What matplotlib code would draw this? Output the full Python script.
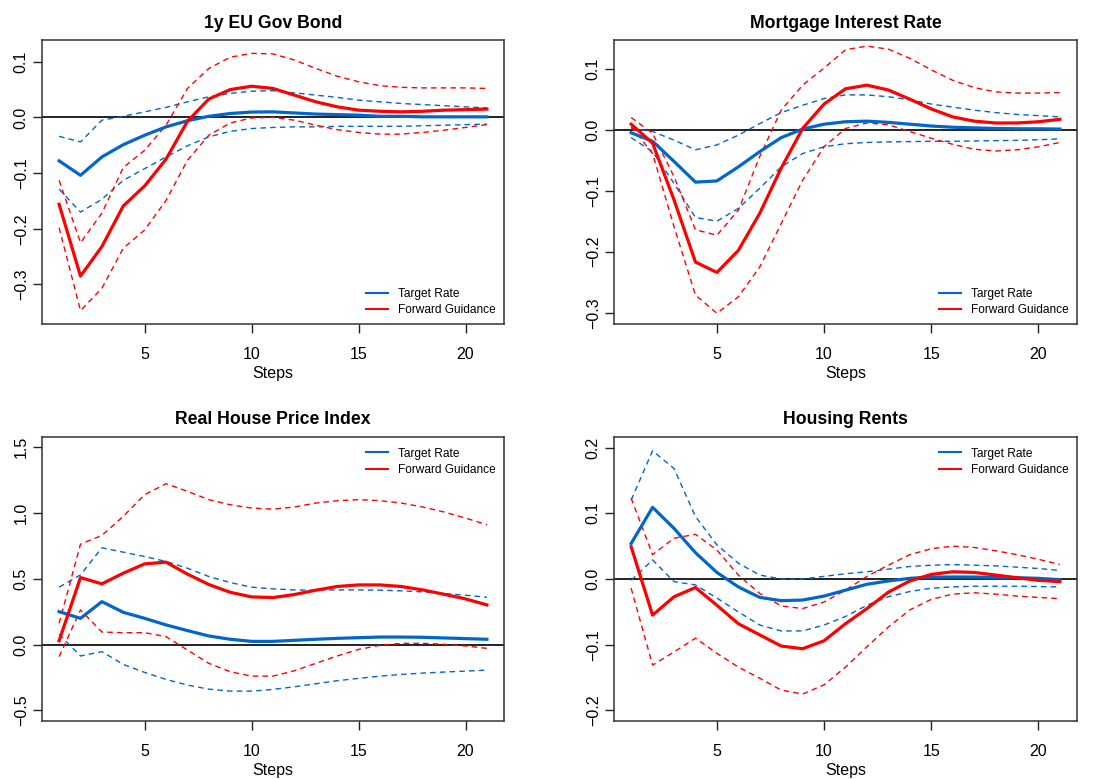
import matplotlib
matplotlib.use("Agg")
import matplotlib.pyplot as plt
from matplotlib.lines import Line2D

plt.rcParams['font.family'] = ['Liberation Sans', 'DejaVu Sans']

steps = list(range(1, 22))

# 1y EU Gov Bond
bond_tr = [-0.078, -0.104, -0.071, -0.049, -0.032, -0.017, -0.006, 0.002, 0.007, 0.0096, 0.010,
           0.008, 0.006, 0.005, 0.004, 0.002, 0.002, 0.001, 0.001, 0.001, 0.001]
bond_tr_hi = [-0.034, -0.044, -0.005, 0.002, 0.010, 0.018, 0.028, 0.037, 0.043, 0.047, 0.048,
              0.044, 0.040, 0.036, 0.031, 0.028, 0.025, 0.023, 0.021, 0.019, 0.017]
bond_tr_lo = [-0.129, -0.170, -0.147, -0.113, -0.092, -0.071, -0.051, -0.035, -0.025, -0.020, -0.018,
              -0.017, -0.017, -0.016, -0.016, -0.016, -0.016, -0.015, -0.014, -0.013, -0.012]
bond_fg = [-0.156, -0.285, -0.232, -0.159, -0.123, -0.075, -0.007, 0.033, 0.050, 0.056, 0.052,
           0.040, 0.028, 0.019, 0.013, 0.011, 0.010, 0.011, 0.013, 0.014, 0.015]
bond_fg_hi = [-0.113, -0.225, -0.172, -0.090, -0.059, -0.014, 0.052, 0.088, 0.108, 0.115, 0.114,
              0.103, 0.088, 0.074, 0.064, 0.057, 0.054, 0.053, 0.053, 0.053, 0.052]
bond_fg_lo = [-0.198, -0.347, -0.307, -0.235, -0.202, -0.149, -0.077, -0.032, -0.010, -0.001, 0.000,
              -0.005, -0.014, -0.022, -0.027, -0.030, -0.030, -0.027, -0.023, -0.018, -0.013]

# Mortgage Interest Rate
mort_tr = [-0.005, -0.019, -0.052, -0.086, -0.084, -0.061, -0.036, -0.013, 0.001, 0.009, 0.013,
           0.014, 0.012, 0.009, 0.006, 0.004, 0.003, 0.002, 0.0015, 0.0015, 0.001]
mort_tr_hi = [0.002, -0.003, -0.017, -0.033, -0.025, -0.009, 0.010, 0.028, 0.040, 0.051, 0.057,
              0.057, 0.054, 0.049, 0.042, 0.037, 0.032, 0.028, 0.025, 0.023, 0.021]
mort_tr_lo = [-0.013, -0.036, -0.088, -0.144, -0.150, -0.129, -0.096, -0.061, -0.039, -0.028, -0.023,
              -0.021, -0.020, -0.0195, -0.019, -0.019, -0.0185, -0.018, -0.0175, -0.0165, -0.015]
mort_fg = [0.009, -0.022, -0.115, -0.217, -0.234, -0.198, -0.137, -0.063, 0.002, 0.042, 0.067,
           0.073, 0.065, 0.050, 0.034, 0.021, 0.014, 0.011, 0.011, 0.013, 0.017]
mort_fg_hi = [0.020, -0.006, -0.077, -0.164, -0.173, -0.132, -0.044, 0.032, 0.073, 0.101, 0.131,
              0.137, 0.132, 0.117, 0.098, 0.081, 0.069, 0.062, 0.060, 0.060, 0.061]
mort_fg_lo = [0.005, -0.039, -0.159, -0.271, -0.301, -0.274, -0.225, -0.154, -0.083, -0.028, 0.002,
              0.011, 0.008, -0.003, -0.014, -0.024, -0.032, -0.035, -0.033, -0.028, -0.021]

# Real House Price Index
house_tr = [0.251, 0.200, 0.327, 0.246, 0.200, 0.150, 0.107, 0.066, 0.041, 0.025, 0.025,
            0.033, 0.041, 0.048, 0.053, 0.058, 0.058, 0.056, 0.051, 0.046, 0.041]
house_tr_hi = [0.437, 0.530, 0.736, 0.703, 0.670, 0.632, 0.581, 0.518, 0.472, 0.437, 0.424,
               0.416, 0.414, 0.416, 0.416, 0.414, 0.409, 0.401, 0.388, 0.376, 0.360]
house_tr_lo = [0.079, -0.086, -0.053, -0.150, -0.211, -0.264, -0.307, -0.338, -0.353, -0.353, -0.340,
               -0.320, -0.297, -0.274, -0.256, -0.239, -0.226, -0.216, -0.208, -0.201, -0.193]
house_fg = [0.030, 0.510, 0.462, 0.543, 0.614, 0.627, 0.536, 0.457, 0.398, 0.363, 0.358,
            0.381, 0.414, 0.442, 0.454, 0.454, 0.442, 0.416, 0.383, 0.348, 0.302]
house_fg_hi = [0.162, 0.764, 0.830, 0.975, 1.140, 1.223, 1.165, 1.102, 1.063, 1.038, 1.030,
               1.046, 1.076, 1.094, 1.102, 1.094, 1.076, 1.046, 1.008, 0.962, 0.911]
house_fg_lo = [-0.091, 0.264, 0.096, 0.091, 0.091, 0.061, -0.041, -0.142, -0.206, -0.239, -0.239,
               -0.198, -0.142, -0.086, -0.036, -0.005, 0.010, 0.010, 0.003, -0.010, -0.028]

# Housing Rents
rent_tr = [0.054, 0.109, 0.077, 0.040, 0.010, -0.012, -0.028, -0.033, -0.032, -0.026, -0.017,
           -0.008, -0.003, 0.001, 0.003, 0.003, 0.003, 0.0025, 0.002, 0.001, -0.001]
rent_tr_hi = [0.120, 0.195, 0.168, 0.095, 0.052, 0.024, 0.006, 0.000, 0.000, 0.004, 0.008,
              0.011, 0.015, 0.019, 0.021, 0.022, 0.021, 0.020, 0.018, 0.016, 0.013]
rent_tr_lo = [-0.002, 0.029, -0.004, -0.009, -0.029, -0.050, -0.070, -0.079, -0.079, -0.070, -0.057,
              -0.040, -0.027, -0.019, -0.014, -0.012, -0.011, -0.011, -0.011, -0.0115, -0.012]
rent_fg = [0.049, -0.055, -0.027, -0.013, -0.040, -0.068, -0.085, -0.102, -0.106, -0.094, -0.068,
           -0.045, -0.020, -0.003, 0.007, 0.011, 0.010, 0.006, 0.002, -0.002, -0.004]
rent_fg_hi = [0.123, 0.037, 0.062, 0.068, 0.044, 0.006, -0.022, -0.041, -0.045, -0.035, -0.017,
              0.004, 0.021, 0.037, 0.046, 0.050, 0.048, 0.043, 0.037, 0.030, 0.022]
rent_fg_lo = [-0.014, -0.131, -0.111, -0.090, -0.113, -0.134, -0.151, -0.169, -0.175, -0.161, -0.134,
              -0.103, -0.073, -0.047, -0.031, -0.023, -0.021, -0.023, -0.026, -0.028, -0.030]

titles = ["1y EU Gov Bond", "Mortgage Interest Rate", "Real House Price Index", "Housing Rents"]
series = [
    (bond_tr, bond_tr_hi, bond_tr_lo, bond_fg, bond_fg_hi, bond_fg_lo),
    (mort_tr, mort_tr_hi, mort_tr_lo, mort_fg, mort_fg_hi, mort_fg_lo),
    (house_tr, house_tr_hi, house_tr_lo, house_fg, house_fg_hi, house_fg_lo),
    (rent_tr, rent_tr_hi, rent_tr_lo, rent_fg, rent_fg_hi, rent_fg_lo),
]
ylims = [(-0.371, 0.139), (-0.3185, 0.147), (-0.58, 1.578), (-0.216, 0.216)]
yticks = [[-0.3, -0.2, -0.1, 0.0, 0.1], [-0.3, -0.2, -0.1, 0.0, 0.1],
          [-0.5, 0.0, 0.5, 1.0, 1.5], [-0.2, -0.1, 0.0, 0.1, 0.2]]
legend_loc = ["lower right", "lower right", "upper right", "upper right"]

W, H = 1114, 779
boxes = [(42, 40, 504, 324), (614, 40, 1077, 324), (42, 437, 504, 721), (614, 437, 1077, 721)]

blue = "#0066cc"
red = "#ff0000"

fig = plt.figure(figsize=(W / 100, H / 100), dpi=100)
for i in range(4):
    x0, y0, x1, y1 = boxes[i]
    ax = fig.add_axes([x0 / W, 1 - y1 / H, (x1 - x0) / W, (y1 - y0) / H])
    tr, tr_hi, tr_lo, fg, fg_hi, fg_lo = series[i]
    ax.axhline(0, color="#222222", lw=1.4, zorder=1)
    ax.plot(steps, tr_hi, color=blue, lw=1.0, ls=(0, (4, 3)))
    ax.plot(steps, tr_lo, color=blue, lw=1.0, ls=(0, (4, 3)))
    ax.plot(steps, fg_hi, color=red, lw=1.0, ls=(0, (4, 3)))
    ax.plot(steps, fg_lo, color=red, lw=1.0, ls=(0, (4, 3)))
    ax.plot(steps, tr, color=blue, lw=2.3)
    ax.plot(steps, fg, color=red, lw=2.3)
    ax.set_xlim(0.2, 21.8)
    ax.set_ylim(*ylims[i])
    ax.set_xticks([5, 10, 15, 20])
    ax.set_yticks(yticks[i])
    ax.set_yticklabels([("%.1f" % v).replace("-", "\u2212") for v in yticks[i]],
                       rotation=90, va="center")
    ax.tick_params(direction="out", length=6.5, width=1.0, labelsize=11.5, color="#222222")
    ax.tick_params(axis="y", pad=3)
    ax.tick_params(axis="x", pad=10)
    for s in ax.spines.values():
        s.set_linewidth(1.1)
        s.set_color("#333333")
    ax.set_title(titles[i], fontsize=12.7, fontweight="bold", pad=9)
    ax.set_xlabel("Steps", fontsize=11.5, labelpad=3)
    handles = [Line2D([], [], color=blue, lw=1.5), Line2D([], [], color=red, lw=1.5)]
    leg = ax.legend(handles, ["Target Rate", "Forward Guidance"], loc=legend_loc[i], frameon=False,
                    fontsize=8.6, handlelength=1.9, handletextpad=0.85, labelspacing=0.35,
                    borderaxespad=0.25)
    if legend_loc[i] == "upper right":
        leg.set_bbox_to_anchor((1.0, 0.99))

fig.savefig("out.png", dpi=100)
